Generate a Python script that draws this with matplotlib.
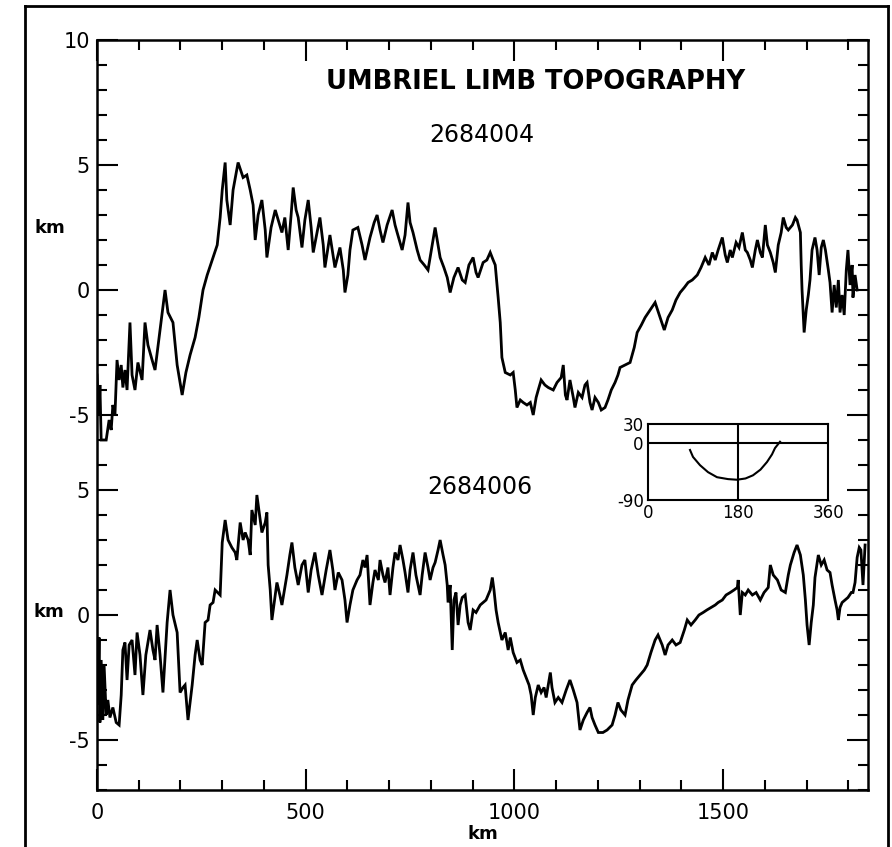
import numpy as np
import matplotlib
matplotlib.use("Agg")
import matplotlib.pyplot as plt
from matplotlib.ticker import FixedLocator, MultipleLocator
from matplotlib.lines import Line2D

plt.rcParams["axes.unicode_minus"] = False

# Limb profile 2684004 (distance along limb in km, elevation in km)
top_km = [0, 5, 7, 10, 22, 29, 34, 38, 43, 48, 53, 58, 62, 67, 72, 79, 84, 91, 98, 108,
          115, 122, 132, 139, 151, 163, 170, 182, 192, 204, 213, 223, 235, 244, 254, 264, 278, 288, 295, 300,
          307, 311, 319, 326, 338, 350, 359, 367, 374, 379, 386, 395, 403, 407, 417, 427, 434, 443, 450, 458,
          465, 470, 477, 482, 491, 498, 506, 513, 518, 527, 534, 542, 546, 558, 570, 582, 590, 594, 601, 606,
          613, 625, 635, 642, 654, 664, 671, 678, 685, 695, 707, 714, 719, 731, 738, 745, 750, 757, 767, 774,
          784, 793, 803, 810, 817, 822, 831, 839, 846, 855, 865, 875, 882, 891, 901, 908, 913, 925, 934, 942,
          949, 954, 961, 966, 968, 970, 978, 990, 997, 1002, 1006, 1014, 1021, 1030, 1038, 1045, 1052, 1057, 1064, 1073,
          1081, 1093, 1102, 1112, 1117, 1122, 1126, 1133, 1141, 1145, 1153, 1162, 1169, 1174, 1181, 1186, 1193, 1201, 1208, 1217,
          1224, 1232, 1241, 1248, 1253, 1265, 1277, 1287, 1294, 1304, 1313, 1325, 1337, 1349, 1359, 1368, 1378, 1387, 1397, 1407,
          1416, 1426, 1438, 1447, 1457, 1466, 1474, 1481, 1488, 1498, 1505, 1510, 1517, 1522, 1531, 1538, 1546, 1553, 1558, 1565,
          1570, 1577, 1582, 1589, 1594, 1601, 1606, 1613, 1620, 1625, 1632, 1639, 1644, 1651, 1656, 1666, 1673, 1677, 1685, 1687,
          1689, 1692, 1694, 1699, 1704, 1708, 1713, 1720, 1725, 1730, 1735, 1740, 1745, 1752, 1756, 1761, 1766, 1771, 1776, 1780,
          1785, 1790, 1795, 1799, 1804, 1809, 1811, 1816, 1821]
top_elev = [-3.4, -5.0, -3.8, -6.0, -6.0, -5.2, -5.6, -4.6, -5.0, -2.8, -3.6, -3.0, -3.9, -3.2, -4.0, -1.3, -3.4, -4.0, -2.9, -3.6,
            -1.3, -2.2, -2.8, -3.2, -1.6, 0.0, -0.9, -1.3, -3.0, -4.2, -3.3, -2.6, -1.9, -1.1, 0.0, 0.6, 1.3, 1.8, 2.9, 4.0,
            5.1, 3.6, 2.6, 4.0, 5.1, 4.5, 4.6, 4.0, 3.4, 2.0, 3.0, 3.6, 2.4, 1.3, 2.5, 3.2, 2.8, 2.3, 2.9, 1.6,
            3.0, 4.1, 3.2, 2.9, 1.7, 2.8, 3.6, 2.5, 1.5, 2.3, 2.9, 1.8, 0.9, 2.2, 0.9, 1.7, 0.8, -0.1, 0.6, 1.6,
            2.4, 2.5, 1.8, 1.2, 2.1, 2.7, 3.0, 2.4, 1.9, 2.6, 3.2, 2.6, 2.3, 1.6, 2.2, 3.5, 2.7, 2.3, 1.6, 1.2,
            1.0, 0.8, 1.8, 2.5, 1.8, 1.3, 0.9, 0.5, -0.1, 0.5, 0.9, 0.4, 0.3, 1.0, 1.3, 0.7, 0.5, 1.1, 1.2, 1.5,
            1.2, 1.0, -0.3, -1.3, -2.0, -2.7, -3.3, -3.4, -3.3, -4.0, -4.7, -4.4, -4.5, -4.6, -4.5, -5.0, -4.3, -4.0, -3.6, -3.8,
            -3.9, -4.0, -3.7, -3.5, -3.0, -4.2, -4.4, -3.6, -4.3, -4.7, -4.1, -4.3, -3.8, -3.7, -4.5, -4.8, -4.3, -4.5, -4.8, -4.7,
            -4.4, -4.0, -3.7, -3.4, -3.1, -3.0, -2.9, -2.3, -1.7, -1.4, -1.1, -0.8, -0.5, -1.1, -1.6, -1.1, -0.8, -0.4, -0.1, 0.1,
            0.3, 0.4, 0.6, 0.9, 1.3, 1.0, 1.5, 1.2, 1.6, 2.1, 1.4, 1.1, 1.6, 1.3, 1.9, 1.7, 2.3, 1.6, 1.5, 1.2,
            0.9, 1.6, 2.0, 1.5, 1.3, 2.6, 1.8, 1.5, 1.1, 0.7, 1.8, 2.3, 2.9, 2.5, 2.4, 2.6, 2.9, 2.8, 2.3, 1.0,
            0.0, -1.0, -1.7, -0.8, -0.2, 0.4, 1.6, 2.1, 1.6, 0.6, 1.7, 2.0, 1.6, 0.8, 0.3, -0.9, 0.2, -0.7, 0.4, -0.9,
            -0.2, -1.0, 0.8, 1.6, 0.2, 1.0, -0.3, 0.6, 0.0]

# Limb profile 2684006
bot_km = [0, 2, 5, 7, 10, 14, 17, 22, 26, 31, 38, 46, 53, 58, 62, 67, 72, 77, 84, 91,
          96, 103, 110, 117, 127, 134, 139, 144, 151, 158, 168, 175, 182, 192, 199, 206, 211, 218, 228, 235,
          240, 247, 252, 259, 266, 271, 278, 283, 295, 300, 307, 314, 323, 331, 335, 343, 350, 355, 362, 367,
          371, 379, 383, 391, 395, 403, 407, 410, 415, 419, 427, 431, 438, 443, 450, 455, 462, 467, 474, 482,
          491, 498, 506, 513, 522, 530, 539, 549, 558, 565, 570, 578, 587, 594, 599, 606, 613, 623, 630, 637,
          642, 647, 654, 661, 666, 674, 678, 685, 690, 697, 702, 709, 714, 721, 726, 733, 738, 745, 750, 757,
          764, 774, 779, 786, 793, 798, 805, 810, 817, 822, 829, 834, 839, 841, 846, 851, 855, 860, 865, 870,
          875, 882, 889, 894, 901, 908, 918, 925, 932, 942, 947, 951, 956, 961, 970, 978, 985, 990, 997, 1006,
          1014, 1021, 1028, 1035, 1040, 1045, 1050, 1057, 1064, 1071, 1076, 1083, 1086, 1090, 1097, 1105, 1114, 1124, 1133, 1141,
          1150, 1157, 1165, 1174, 1181, 1186, 1193, 1201, 1212, 1222, 1234, 1241, 1248, 1255, 1265, 1272, 1282, 1291, 1301, 1311,
          1318, 1327, 1337, 1344, 1354, 1361, 1368, 1378, 1387, 1397, 1407, 1414, 1423, 1433, 1442, 1452, 1461, 1471, 1481, 1488,
          1498, 1507, 1517, 1526, 1534, 1536, 1541, 1546, 1553, 1560, 1570, 1579, 1589, 1598, 1608, 1613, 1620, 1630, 1639, 1649,
          1656, 1661, 1670, 1677, 1685, 1692, 1697, 1701, 1706, 1711, 1716, 1720, 1728, 1735, 1742, 1749, 1756, 1761, 1768, 1773,
          1776, 1780, 1785, 1792, 1799, 1807, 1811, 1816, 1821, 1826, 1830, 1835, 1840]
bot_elev = [-1.0, -3.6, -0.9, -4.3, -1.8, -4.2, -2.0, -4.0, -3.4, -4.1, -3.7, -4.3, -4.4, -3.2, -1.4, -1.1, -2.6, -1.2, -1.0, -2.4,
            -0.7, -1.6, -3.2, -1.6, -0.6, -1.4, -1.8, -0.4, -1.6, -3.1, -0.3, 1.0, 0.0, -0.7, -3.1, -2.9, -2.8, -4.2, -2.8, -1.6,
            -1.0, -1.8, -2.0, -0.3, -0.2, 0.4, 0.5, 1.0, 0.8, 2.9, 3.8, 3.0, 2.7, 2.5, 2.2, 3.7, 3.0, 3.3, 3.0, 2.4,
            4.2, 3.6, 4.8, 3.8, 3.3, 3.7, 4.1, 2.0, 1.0, -0.2, 0.8, 1.3, 0.8, 0.4, 1.1, 1.6, 2.4, 2.9, 1.9, 1.2,
            2.0, 2.2, 0.9, 1.8, 2.5, 1.6, 0.8, 1.8, 2.6, 1.8, 1.0, 1.7, 1.4, 0.6, -0.3, 0.4, 1.0, 1.4, 1.6, 2.2,
            1.9, 2.4, 0.4, 1.3, 1.8, 1.4, 2.2, 1.6, 1.3, 1.9, 0.8, 1.9, 2.5, 2.2, 2.8, 2.2, 1.7, 0.9, 1.8, 2.5,
            1.6, 0.8, 1.6, 2.5, 1.9, 1.4, 1.9, 2.1, 2.6, 3.0, 2.4, 2.0, 1.2, 0.5, 1.2, -1.4, 0.6, 0.9, -0.4, 0.4,
            0.7, 0.8, -0.3, -0.6, 0.2, 0.1, 0.4, 0.5, 0.6, 1.0, 1.5, 1.0, 0.2, -0.3, -1.0, -0.7, -1.4, -0.9, -1.5, -1.9,
            -1.8, -2.2, -2.5, -2.8, -3.2, -4.0, -3.3, -2.8, -3.1, -2.9, -3.3, -2.6, -2.3, -2.9, -3.5, -3.3, -3.5, -3.0, -2.6, -3.0,
            -3.5, -4.6, -4.2, -3.9, -3.7, -4.1, -4.4, -4.7, -4.7, -4.6, -4.4, -4.0, -3.5, -3.8, -4.0, -3.4, -2.8, -2.6, -2.4, -2.2,
            -2.0, -1.5, -1.0, -0.8, -1.2, -1.6, -1.2, -1.0, -1.2, -1.1, -0.6, -0.2, -0.4, -0.2, 0.0, 0.1, 0.2, 0.3, 0.4, 0.5,
            0.6, 0.8, 0.9, 1.0, 1.1, 1.4, 0.0, 0.9, 0.8, 1.0, 0.8, 0.9, 0.6, 0.9, 1.1, 2.0, 1.6, 1.4, 1.0, 0.9,
            1.6, 2.0, 2.5, 2.8, 2.4, 1.6, 0.6, -0.4, -1.2, -0.3, 0.4, 1.5, 2.4, 2.0, 2.2, 1.8, 1.7, 1.2, 0.6, 0.2,
            -0.2, 0.3, 0.5, 0.6, 0.7, 0.9, 0.9, 1.3, 2.3, 2.7, 2.6, 1.2, 2.8]

# Inset: limb track in longitude / latitude (degrees)
track_lon = [84, 90, 104, 120, 138, 160, 178, 195, 210, 225, 238, 248, 254, 264]
track_lat = [-11, -22, -35, -46, -54, -57, -58, -56, -51, -42, -30, -18, -8, 2]

# The upper profile is stacked 13 km above the lower one on a shared axis
TOP_OFFSET = 13
ytick_pos = [-5, 0, 5, -5 + TOP_OFFSET, 0 + TOP_OFFSET, 5 + TOP_OFFSET, 10 + TOP_OFFSET]
ytick_lab = ["-5", "0", "5", "-5", "0", "5", "10"]
xtick_pos = [0, 500, 1000, 1500]

W, H = 892, 847
fig = plt.figure(figsize=(W / 100, H / 100), dpi=100)


def fx(px):
    return px / W


def fy(py):
    return 1 - py / H


ax = fig.add_axes([fx(97), fy(790), fx(868) - fx(97), fy(40) - fy(790)])
ax.plot(top_km, np.array(top_elev) + TOP_OFFSET, color="black", lw=2.0, solid_joinstyle="miter")
ax.plot(bot_km, bot_elev, color="black", lw=2.0, solid_joinstyle="miter")
ax.set_xlim(0, 1847)
ax.set_ylim(-7, 23)

ax.yaxis.set_major_locator(FixedLocator(ytick_pos))
ax.set_yticklabels(ytick_lab)
ax.yaxis.set_minor_locator(MultipleLocator(1))
ax.xaxis.set_major_locator(FixedLocator(xtick_pos))
ax.set_xticklabels([str(v) for v in xtick_pos])
ax.xaxis.set_minor_locator(MultipleLocator(100))

for s in ax.spines.values():
    s.set_linewidth(1.8)
ax.tick_params(which="both", direction="in", top=True, right=True, width=1.5, labelsize=15)
ax.tick_params(which="major", length=15)
ax.tick_params(which="minor", length=7)
ax.tick_params(axis="y", pad=5)
ax.tick_params(axis="x", pad=9)

ax.set_xlabel("km", fontsize=13, fontweight="bold", labelpad=2)

fig.text(fx(536), fy(82), "UMBRIEL LIMB TOPOGRAPHY", ha="center", va="center",
         fontsize=18.5, fontweight="bold")
fig.text(fx(482), fy(135), "2684004", ha="center", va="center", fontsize=17)
fig.text(fx(480), fy(487), "2684006", ha="center", va="center", fontsize=17)
fig.text(fx(50), fy(228), "km", ha="center", va="center", fontsize=13, fontweight="bold")
fig.text(fx(49), fy(612), "km", ha="center", va="center", fontsize=13, fontweight="bold")

# Inset: track of the limb on the surface
ins = fig.add_axes([fx(648), fy(500), fx(828) - fx(648), fy(424) - fy(500)])
ins.plot(track_lon, track_lat, color="black", lw=1.5)
ins.axhline(0, color="black", lw=1.5)
ins.axvline(180, color="black", lw=1.5)
ins.set_xlim(0, 360)
ins.set_ylim(-90, 30)
ins.set_xticks([0, 180, 360])
ins.set_yticks([-90, 0, 30])
for s in ins.spines.values():
    s.set_linewidth(1.5)
ins.tick_params(direction="in", length=3, width=1.2, labelsize=12, pad=3)

# Frame around the figure
for (x0, y0, x1, y1) in [(25, 6, 888, 6), (25, 6, 25, 847), (888, 6, 888, 847)]:
    fig.add_artist(Line2D([fx(x0), fx(x1)], [fy(y0), fy(y1)], color="black", lw=2))

fig.savefig("out.png", dpi=100)
